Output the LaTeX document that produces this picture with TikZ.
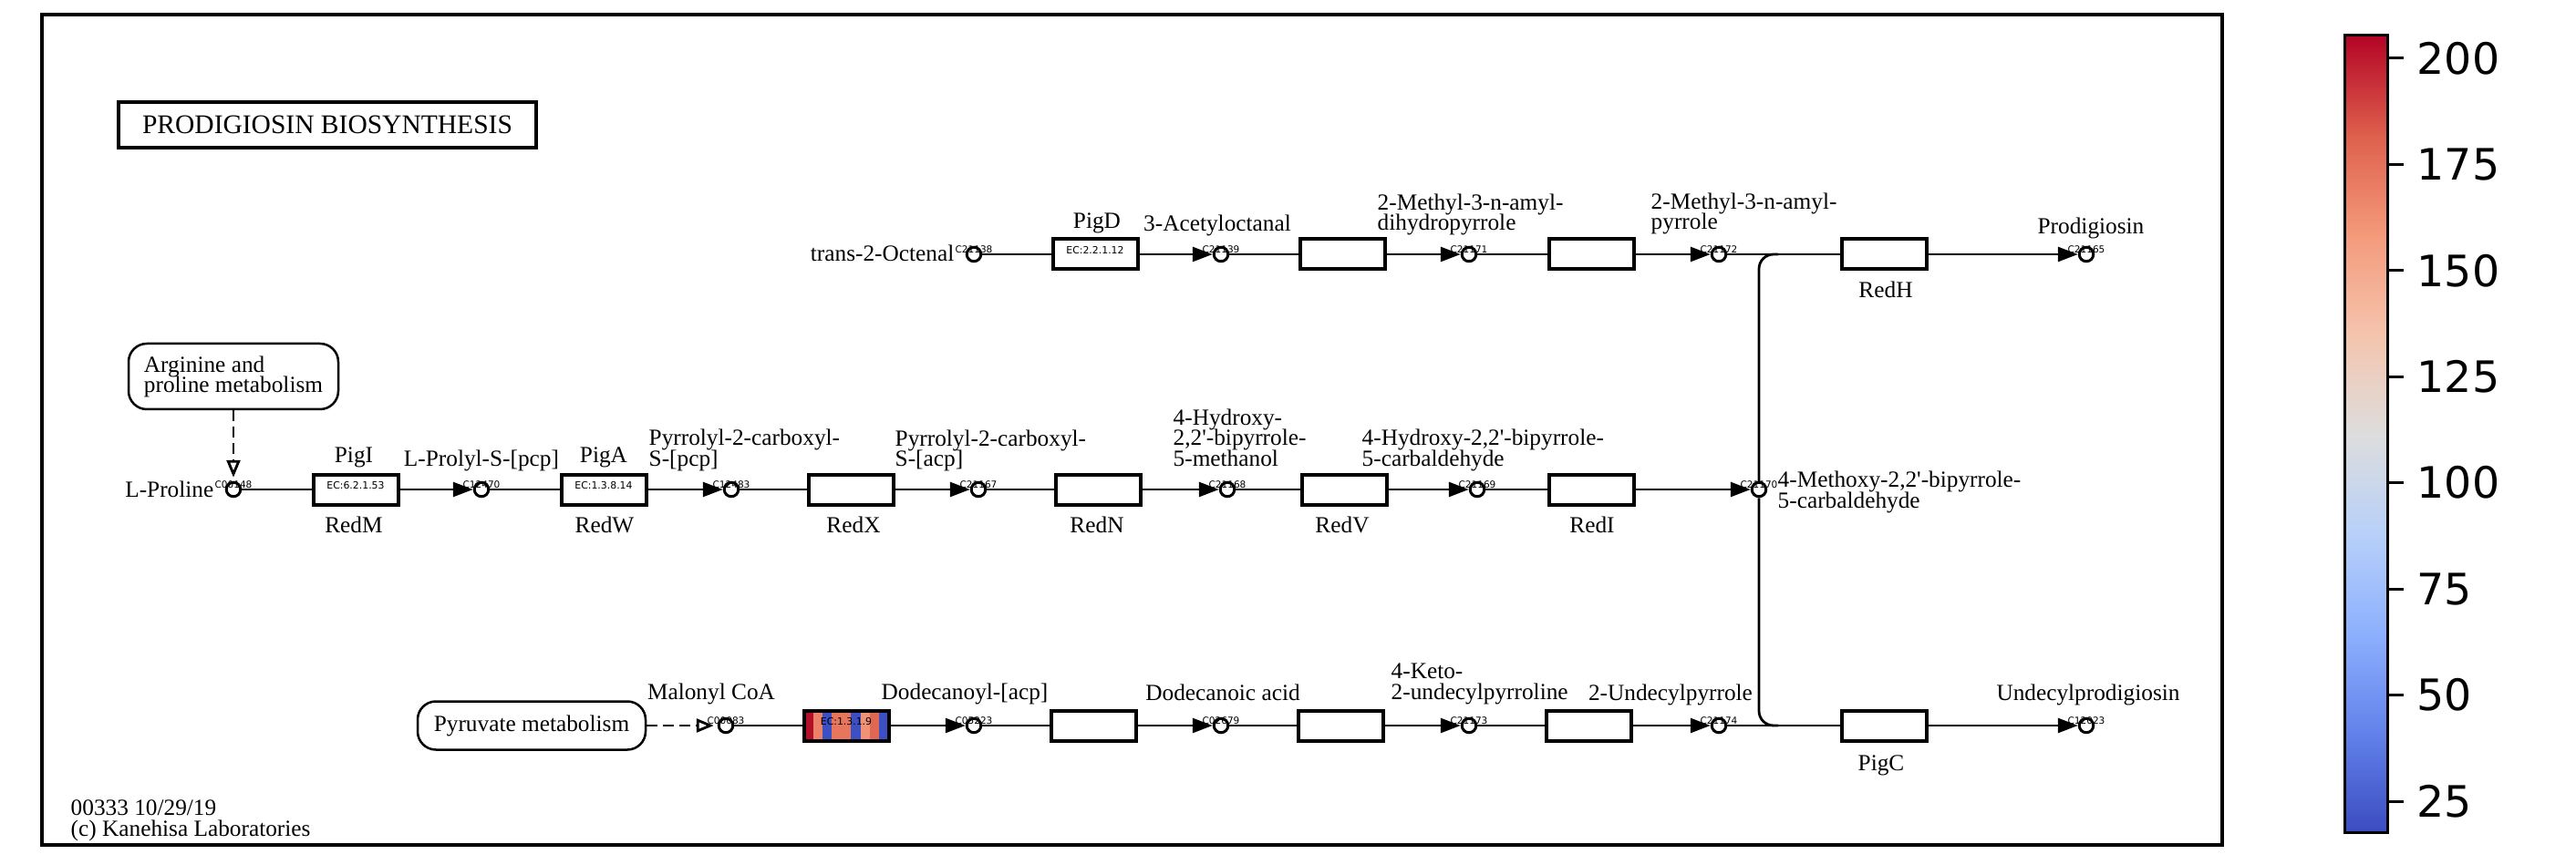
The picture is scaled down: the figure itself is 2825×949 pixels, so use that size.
\documentclass[tikz,border=0pt]{standalone}
\usepackage{fontspec}
\setmainfont{Liberation Serif}
\newfontfamily\cbfont{DejaVu Sans}
\usetikzlibrary{arrows.meta}
\newcommand{\labfont}{\fontsize{7.2}{6.3}\selectfont\lineskiplimit=-5pt\relax}
\newcommand{\idfont}{\cbfont\fontsize{3}{3}\selectfont}
\newcommand{\ecfont}{\cbfont\fontsize{3.1}{3.5}\selectfont}
\newcommand{\tkfont}{\cbfont\fontsize{13.5}{14}\selectfont}
\newcommand{\pr}{\textquotesingle}
\definecolor{cwa}{RGB}{59,76,192}
\definecolor{cwb}{RGB}{98,130,234}
\definecolor{cwc}{RGB}{141,176,254}
\definecolor{cwd}{RGB}{184,208,249}
\definecolor{cwe}{RGB}{221,221,221}
\definecolor{cwf}{RGB}{245,196,173}
\definecolor{cwg}{RGB}{244,154,123}
\definecolor{cwh}{RGB}{222,96,77}
\definecolor{cwi}{RGB}{180,4,38}
\definecolor{stdr}{RGB}{178,16,40}
\definecolor{stsa}{RGB}{236,128,104}
\definecolor{stbl}{RGB}{60,80,196}
\definecolor{stor}{RGB}{231,118,92}
\definecolor{stls}{RGB}{241,146,116}
\definecolor{stds}{RGB}{224,104,82}
\tikzset{
  cpd/.style={circle, draw, line width=0.3mm, minimum size=1.55mm, inner sep=0pt},
  enz/.style={draw, line width=0.4mm, minimum width=9.3mm, minimum height=3.3mm, inner sep=0pt, text depth=0.9mm, font=\ecfont},
  cid/.style={font=\idfont, inner sep=0pt, anchor=base},
  lab/.style={font=\labfont, inner sep=0pt, anchor=base},
  mlab/.style={lab, align=left, anchor=base west},
  mlink/.style={draw, line width=0.25mm, rounded corners=2mm, align=left, inner sep=0pt, font=\labfont},
  con/.style={line width=0.28mm},
  rxn/.style={con, -{Triangle[length=2.2mm, width=1.6mm]}},
  lnk/.style={con, dash pattern=on 1.2mm off 0.6mm, shorten >=0.4mm, -{Triangle[open, length=1.9mm, width=1.5mm]}},
  cbtick/.style={font=\tkfont, inner sep=0pt, anchor=west}
}
\begin{document}
\begin{tikzpicture}[x=0.1mm, y=-0.1mm]
	\useasboundingbox (0,0) rectangle (2825,949);
	\draw[line width=0.35mm] (46,16) rectangle (2437,927);
	\node[draw, line width=0.4mm, minimum width=45.8mm, minimum height=5mm, inner sep=0pt, font=\fontsize{8.4}{9}\selectfont] (title) at (359,137) {PRODIGIOSIN BIOSYNTHESIS};
	\node[mlink, minimum width=23mm, minimum height=7.2mm] (argpro) at (256,413) {Arginine and\\proline metabolism};
	\node[mlink, minimum width=25mm, minimum height=5.3mm] (pyrmet) at (583,796) {Pyruvate metabolism};
	\node[lab, align=left, anchor=base west] (stamp) at (77,917) {00333 10/29/19\\(c) Kanehisa Laboratories};

	\node[cpd] (oct) at (1068,279) {};
	\node[cpd] (acet) at (1339,279) {};
	\node[cpd] (dhp) at (1611,279) {};
	\node[cpd] (amp) at (1885,279) {};
	\node[cpd] (prod) at (2288,279) {};
	\node[cpd] (pro) at (256,537) {};
	\node[cpd] (prpcp) at (528,537) {};
	\node[cpd] (pcp) at (802,537) {};
	\node[cpd] (acp) at (1073,537) {};
	\node[cpd] (meth) at (1346,537) {};
	\node[cpd] (carb) at (1620,537) {};
	\node[cpd] (meo) at (1929,537) {};
	\node[cpd] (mal) at (796,796) {};
	\node[cpd] (ddacp) at (1068,796) {};
	\node[cpd] (dda) at (1339,796) {};
	\node[cpd] (keto) at (1611,796) {};
	\node[cpd] (undp) at (1885,796) {};
	\node[cpd] (uprod) at (2288,796) {};

	\node[cid] (oct-id) at (1068,277) {C21138};
	\node[cid] (acet-id) at (1339,277) {C21139};
	\node[cid] (dhp-id) at (1611,277) {C21171};
	\node[cid] (amp-id) at (1885,277) {C21172};
	\node[cid] (prod-id) at (2288,277) {C21165};
	\node[cid] (pro-id) at (256,535) {C00148};
	\node[cid] (prpcp-id) at (528,535) {C12470};
	\node[cid] (pcp-id) at (802,535) {C12483};
	\node[cid] (acp-id) at (1073,535) {C21167};
	\node[cid] (meth-id) at (1346,535) {C21168};
	\node[cid] (carb-id) at (1620,535) {C21169};
	\node[cid] (meo-id) at (1929,535) {C21170};
	\node[cid] (mal-id) at (796,794) {C00083};
	\node[cid] (ddacp-id) at (1068,794) {C05223};
	\node[cid] (dda-id) at (1339,794) {C02679};
	\node[cid] (keto-id) at (1611,794) {C21173};
	\node[cid] (undp-id) at (1885,794) {C21174};
	\node[cid] (uprod-id) at (2288,794) {C12023};

	\node[enz] (pigd) at (1201,279) {EC:2.2.1.12};
	\node[enz] (ox1) at (1472,279) {};
	\node[enz] (ox2) at (1745,279) {};
	\node[enz] (redh) at (2066,279) {};
	\node[enz] (pigi) at (390,537) {EC:6.2.1.53};
	\node[enz] (piga) at (662,537) {EC:1.3.8.14};
	\node[enz] (redx) at (933,537) {};
	\node[enz] (redn) at (1204,537) {};
	\node[enz] (redv) at (1474,537) {};
	\node[enz] (redi) at (1745,537) {};
	\fill[stdr] (881,779) rectangle (891.6,813);
	\fill[stsa] (891.6,779) rectangle (902,813);
	\fill[stbl] (902,779) rectangle (912.4,813);
	\fill[stor] (912.4,779) rectangle (933.2,813);
	\fill[stbl] (933.2,779) rectangle (943.6,813);
	\fill[stls] (943.6,779) rectangle (954,813);
	\fill[stds] (954,779) rectangle (964.4,813);
	\fill[stbl] (964.4,779) rectangle (975,813);
	\node[enz] (fabi) at (928,796) {EC:1.3.1.9};
	\node[enz] (dd1) at (1199,796) {};
	\node[enz] (dd2) at (1470,796) {};
	\node[enz] (dd3) at (1742,796) {};
	\node[enz] (pigc) at (2066,796) {};

	\node[lab] (pigd-l) at (1203,251) {PigD};
	\node[lab] (redh-l) at (2068,327) {RedH};
	\node[lab] (pigi-l) at (388,508) {PigI};
	\node[lab] (redm-l) at (388,584) {RedM};
	\node[lab] (piga-l) at (662,508) {PigA};
	\node[lab] (redw-l) at (663,584) {RedW};
	\node[lab] (redx-l) at (936,584) {RedX};
	\node[lab] (redn-l) at (1203,584) {RedN};
	\node[lab] (redv-l) at (1472,584) {RedV};
	\node[lab] (redi-l) at (1746,584) {RedI};
	\node[lab] (pigc-l) at (2063,845) {PigC};

	\node[lab, anchor=base east] (oct-l) at (1047,287) {trans-2-Octenal};
	\node[lab] (acet-l) at (1335,254) {3-Acetyloctanal};
	\node[mlab] (dhp-l) at (1510,253) {2-Methyl-3-n-amyl-\\dihydropyrrole};
	\node[mlab] (amp-l) at (1810,252) {2-Methyl-3-n-amyl-\\pyrrole};
	\node[lab] (prod-l) at (2293,257) {Prodigiosin};
	\node[lab, anchor=base east] (pro-l) at (235,545) {L-Proline};
	\node[lab] (prpcp-l) at (528,512) {L-Prolyl-S-[pcp]};
	\node[mlab] (pcp-l) at (711,511) {Pyrrolyl-2-carboxyl-\\S-[pcp]};
	\node[mlab] (acp-l) at (981,512) {Pyrrolyl-2-carboxyl-\\S-[acp]};
	\node[mlab] (meth-l) at (1286,511) {4-Hydroxy-\\2,2\pr-bipyrrole-\\5-methanol};
	\node[mlab] (carb-l) at (1493,511) {4-Hydroxy-2,2\pr-bipyrrole-\\5-carbaldehyde};
	\node[mlab] (meo-l) at (1949,557) {4-Methoxy-2,2\pr-bipyrrole-\\5-carbaldehyde};
	\node[lab] (mal-l) at (780,767) {Malonyl CoA};
	\node[lab] (ddacp-l) at (1058,767) {Dodecanoyl-[acp]};
	\node[lab] (dda-l) at (1341,768) {Dodecanoic acid};
	\node[mlab] (keto-l) at (1525,767) {4-Keto-\\2-undecylpyrroline};
	\node[lab] (undp-l) at (1832,768) {2-Undecylpyrrole};
	\node[lab] (uprod-l) at (2290,768) {Undecylprodigiosin};

	\draw[con] (oct) -- (pigd); \draw[rxn] (pigd) -- (acet);
	\draw[con] (acet) -- (ox1); \draw[rxn] (ox1) -- (dhp);
	\draw[con] (dhp) -- (ox2); \draw[rxn] (ox2) -- (amp);
	\draw[con] (amp) -- (redh); \draw[rxn] (redh) -- (prod);
	\draw[lnk] (argpro) -- (pro);
	\draw[con] (pro) -- (pigi); \draw[rxn] (pigi) -- (prpcp);
	\draw[con] (prpcp) -- (piga); \draw[rxn] (piga) -- (pcp);
	\draw[con] (pcp) -- (redx); \draw[rxn] (redx) -- (acp);
	\draw[con] (acp) -- (redn); \draw[rxn] (redn) -- (meth);
	\draw[con] (meth) -- (redv); \draw[rxn] (redv) -- (carb);
	\draw[con] (carb) -- (redi); \draw[rxn] (redi) -- (meo);
	\coordinate (jtop) at (1950,279);
	\coordinate (jbot) at (1950,796);
	\draw[con, rounded corners=1.6mm] (meo) |- (jtop);
	\draw[con, rounded corners=1.6mm] (meo) |- (jbot);
	\draw[lnk] (pyrmet) -- (mal);
	\draw[con] (mal) -- (fabi); \draw[rxn] (fabi) -- (ddacp);
	\draw[con] (ddacp) -- (dd1); \draw[rxn] (dd1) -- (dda);
	\draw[con] (dda) -- (dd2); \draw[rxn] (dd2) -- (keto);
	\draw[con] (keto) -- (dd3); \draw[rxn] (dd3) -- (undp);
	\draw[con] (undp) -- (pigc); \draw[rxn] (pigc) -- (uprod);

	\shade[bottom color=cwa, top color=cwb] (2571,913) rectangle (2618,803);
	\shade[bottom color=cwb, top color=cwc] (2571,804.5) rectangle (2618,694);
	\shade[bottom color=cwc, top color=cwd] (2571,695.5) rectangle (2618,585);
	\shade[bottom color=cwd, top color=cwe] (2571,586) rectangle (2618,475.5);
	\shade[bottom color=cwe, top color=cwf] (2571,477) rectangle (2618,366);
	\shade[bottom color=cwf, top color=cwg] (2571,367.5) rectangle (2618,257);
	\shade[bottom color=cwg, top color=cwh] (2571,258.5) rectangle (2618,148);
	\shade[bottom color=cwh, top color=cwi] (2571,149) rectangle (2618,39);
	\draw[line width=0.3mm] (2571,39) rectangle (2618,913);
	\draw[line width=0.3mm] (2618,64) -- (2636,64);
	\draw[line width=0.3mm] (2618,180.4) -- (2636,180.4);
	\draw[line width=0.3mm] (2618,296.9) -- (2636,296.9);
	\draw[line width=0.3mm] (2618,413.3) -- (2636,413.3);
	\draw[line width=0.3mm] (2618,529.7) -- (2636,529.7);
	\draw[line width=0.3mm] (2618,646.1) -- (2636,646.1);
	\draw[line width=0.3mm] (2618,762.6) -- (2636,762.6);
	\draw[line width=0.3mm] (2618,879) -- (2636,879);
	\node[cbtick] (t200) at (2650,64) {200};
	\node[cbtick] (t175) at (2650,180.4) {175};
	\node[cbtick] (t150) at (2650,296.9) {150};
	\node[cbtick] (t125) at (2650,413.3) {125};
	\node[cbtick] (t100) at (2650,529.7) {100};
	\node[cbtick] (t75) at (2650,646.1) {75};
	\node[cbtick] (t50) at (2650,762.6) {50};
	\node[cbtick] (t25) at (2650,879) {25};
\end{tikzpicture}
\end{document}
